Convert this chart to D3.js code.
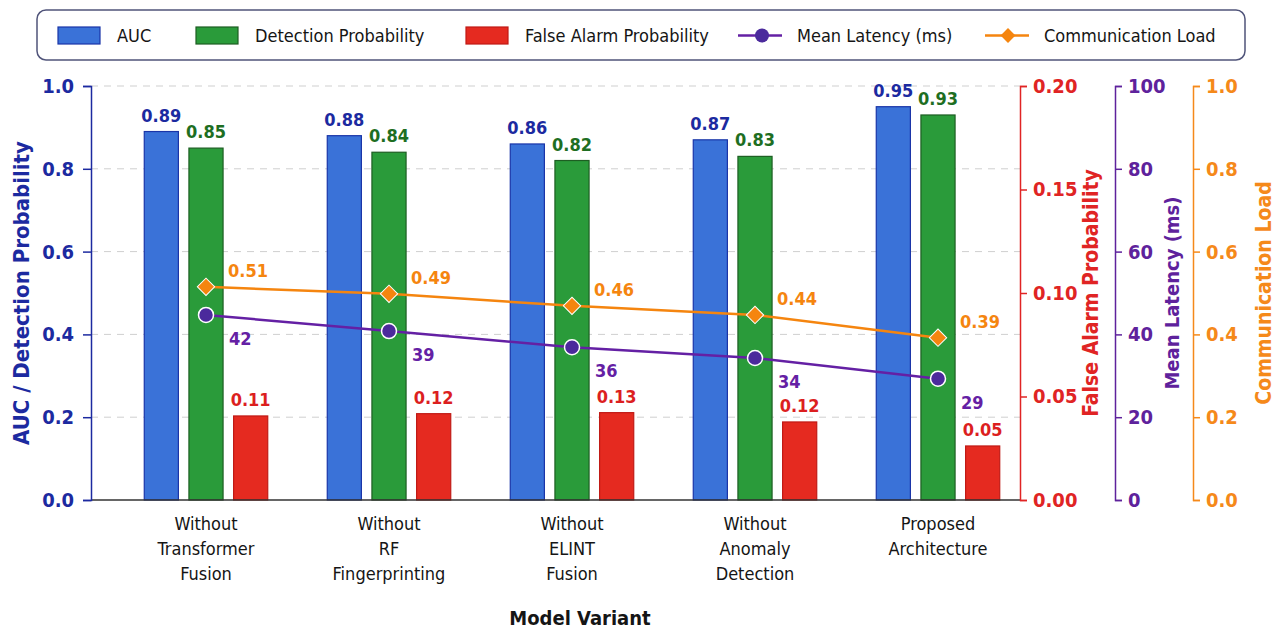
<!DOCTYPE html>
<html>
<head>
<meta charset="utf-8">
<script src="https://cdn.jsdelivr.net/npm/d3@7"></script>
<style>
  body { margin: 0; background: #fff; }
  svg { display: block; font-family: 'DejaVu Sans Condensed', 'Liberation Sans Narrow', sans-serif; }
</style>
</head>
<body>
<svg id="chart" width="1277" height="631"></svg>
<script>
// categories (each label broken into its lines)
const variants = [
  ["Without", "Transformer", "Fusion"],
  ["Without", "RF", "Fingerprinting"],
  ["Without", "ELINT", "Fusion"],
  ["Without", "Anomaly", "Detection"],
  ["Proposed", "Architecture"]
];
const aucValues = [0.89, 0.88, 0.86, 0.87, 0.95];
const detectionValues = [0.85, 0.84, 0.82, 0.83, 0.93];
// false alarm bars: heights as drawn against the red axis, labels as printed
const falseAlarmBars = [0.0406, 0.0417, 0.0422, 0.0377, 0.0261];
const falseAlarmLabels = ["0.11", "0.12", "0.13", "0.12", "0.05"];
// latency / load points: positions as drawn, labels as printed
const latencyValues = [44.7, 40.8, 36.9, 34.3, 29.3];
const latencyLabels = ["42", "39", "36", "34", "29"];
const loadValues = [0.515, 0.498, 0.469, 0.447, 0.392];
const loadLabels = ["0.51", "0.49", "0.46", "0.44", "0.39"];

const leftTicks = [0, 0.2, 0.4, 0.6, 0.8, 1.0];
const faTicks = [0, 0.05, 0.10, 0.15, 0.20];
const latencyTicks = [0, 20, 40, 60, 80, 100];
const loadTicks = [0, 0.2, 0.4, 0.6, 0.8, 1.0];

const C = {
  blue: "#3a72d8", blueEdge: "#1a35a8", blueText: "#1c2aa0",
  green: "#2a9b3a", greenEdge: "#1d5e22", greenText: "#1e6e22",
  red: "#e52a20", redEdge: "#c01a15", redText: "#dc1f1f",
  purple: "#6420a4", purpleDot: "#4b2a9c", orange: "#f5850f"
};

const svg = d3.select("#chart");
const plotTop = 86, plotBottom = 500, plotLeft = 91, plotRight = 1020;

const x = d3.scalePoint().domain(d3.range(variants.length)).range([206, 938]);
const xInner = d3.scaleBand().domain(["auc", "det", "fa"]).range([-67, 67])
  .paddingInner(0.236).paddingOuter(0.118);

const y = d3.scaleLinear().domain([0, 1]).range([plotBottom, plotTop]);
const yFa = d3.scaleLinear().domain([0, 0.2]).range([plotBottom, plotTop]);
const yLat = d3.scaleLinear().domain([0, 100]).range([plotBottom, plotTop]);
const yLoad = d3.scaleLinear().domain([0, 1]).range([plotBottom, plotTop]);

// grid
svg.append("g").selectAll("line").data(leftTicks.slice(1)).join("line")
  .attr("x1", plotLeft).attr("x2", plotRight)
  .attr("y1", d => y(d)).attr("y2", d => y(d))
  .attr("stroke", "#cfcfcf").attr("stroke-width", 1).attr("stroke-dasharray", "7,6");

// bars
const bars = [
  { key: "auc", vals: aucValues, scale: y, fill: C.blue, edge: C.blueEdge },
  { key: "det", vals: detectionValues, scale: y, fill: C.green, edge: C.greenEdge },
  { key: "fa", vals: falseAlarmBars, scale: yFa, fill: C.red, edge: C.redEdge }
];
bars.forEach(b => {
  svg.append("g").selectAll("rect").data(b.vals).join("rect")
    .attr("x", (d, i) => x(i) + xInner(b.key))
    .attr("y", d => b.scale(d))
    .attr("width", xInner.bandwidth())
    .attr("height", d => plotBottom - b.scale(d))
    .attr("fill", b.fill).attr("stroke", b.edge).attr("stroke-width", 1.2);
});

// bar value labels
const valueLabel = (vals, key, scale, texts, color) => {
  svg.append("g").selectAll("text").data(vals).join("text")
    .attr("x", (d, i) => x(i) + xInner(key) + xInner.bandwidth() / 2)
    .attr("y", d => scale(d) - 10)
    .attr("text-anchor", "middle")
    .attr("font-size", 18).attr("font-weight", "bold").attr("fill", color)
    .text((d, i) => texts[i]);
};
valueLabel(aucValues, "auc", y, aucValues.map(d3.format(".2f")), C.blueText);
valueLabel(detectionValues, "det", y, detectionValues.map(d3.format(".2f")), C.greenText);
valueLabel(falseAlarmBars, "fa", yFa, falseAlarmLabels, C.redText);

// lines
const loadLine = d3.line().x((d, i) => x(i)).y(d => yLoad(d));
const latLine = d3.line().x((d, i) => x(i)).y(d => yLat(d));
svg.append("path").datum(loadValues).attr("d", loadLine)
  .attr("fill", "none").attr("stroke", C.orange).attr("stroke-width", 2.5);
svg.append("path").datum(latencyValues).attr("d", latLine)
  .attr("fill", "none").attr("stroke", C.purple).attr("stroke-width", 2.5);

svg.append("g").selectAll("path").data(loadValues).join("path")
  .attr("transform", (d, i) => `translate(${x(i)},${yLoad(d)}) rotate(45)`)
  .attr("d", d3.symbol(d3.symbolSquare, 150))
  .attr("fill", C.orange).attr("stroke", "#fff").attr("stroke-width", 1);
svg.append("g").selectAll("circle").data(latencyValues).join("circle")
  .attr("cx", (d, i) => x(i)).attr("cy", d => yLat(d)).attr("r", 7.5)
  .attr("fill", C.purpleDot).attr("stroke", "#fff").attr("stroke-width", 1.5);

svg.append("g").selectAll("text").data(loadValues).join("text")
  .attr("x", (d, i) => x(i) + 22).attr("y", d => yLoad(d) - 10)
  .attr("font-size", 18).attr("font-weight", "bold").attr("fill", C.orange)
  .text((d, i) => loadLabels[i]);
svg.append("g").selectAll("text").data(latencyValues).join("text")
  .attr("x", (d, i) => x(i) + 23).attr("y", d => yLat(d) + 30)
  .attr("font-size", 18).attr("font-weight", "bold").attr("fill", C.purple)
  .text((d, i) => latencyLabels[i]);

// x axis line
svg.append("line").attr("x1", plotLeft).attr("x2", plotRight).attr("y1", plotBottom).attr("y2", plotBottom)
  .attr("stroke", "#333").attr("stroke-width", 1.5);

// axes
function styleAxis(g, color) {
  g.select(".domain").attr("stroke", color).attr("stroke-width", 1.5);
  g.selectAll(".tick line").attr("stroke", color).attr("stroke-width", 1.5);
  g.selectAll(".tick text").attr("fill", color)
    .attr("font-size", 20).attr("font-weight", "bold");
  g.attr("font-family", null);
}
svg.append("g").attr("transform", `translate(${plotLeft},0)`)
  .call(d3.axisLeft(y).tickValues(leftTicks).tickFormat(d3.format(".1f")).tickSizeOuter(0).tickSize(8).tickPadding(9))
  .call(g => styleAxis(g, C.blueText));
svg.append("g").attr("transform", `translate(${plotRight},0)`)
  .call(d3.axisRight(yFa).tickValues(faTicks).tickFormat(d3.format(".2f")).tickSizeOuter(7).tickSize(7).tickPadding(6))
  .call(g => styleAxis(g, "#e02424"));
svg.append("g").attr("transform", "translate(1115,0)")
  .call(d3.axisRight(yLat).tickValues(latencyTicks).tickFormat(d3.format("d")).tickSizeOuter(7).tickSize(7).tickPadding(6))
  .call(g => styleAxis(g, "#5e229c"));
svg.append("g").attr("transform", "translate(1193,0)")
  .call(d3.axisRight(yLoad).tickValues(loadTicks).tickFormat(d3.format(".1f")).tickSizeOuter(7).tickSize(7).tickPadding(6))
  .call(g => styleAxis(g, "#f5891a"));

// axis titles
const midY = (plotTop + plotBottom) / 2;
const axisTitle = (tx, size, text, color) => svg.append("text")
  .attr("transform", `translate(${tx},${midY}) rotate(-90)`)
  .attr("text-anchor", "middle").attr("dominant-baseline", "central")
  .attr("font-size", size).attr("font-weight", "bold").attr("fill", color).text(text);
axisTitle(21, 22, "AUC / Detection Probability", C.blueText);
axisTitle(1091, 21, "False Alarm Probability", "#e02424");
axisTitle(1172, 20, "Mean Latency (ms)", "#5e229c");
axisTitle(1264, 21, "Communication Load", "#f5891a");

// category labels
svg.append("g").selectAll("text").data(variants).join("text")
  .attr("x", (d, i) => x(i)).attr("y", 530)
  .attr("text-anchor", "middle").attr("font-size", 18).attr("fill", "#151515")
  .each(function (lines) {
    d3.select(this).selectAll("tspan").data(lines).join("tspan")
      .attr("x", d3.select(this).attr("x")).attr("dy", (d, j) => j === 0 ? 0 : 25).text(d => d);
  });

svg.append("text").attr("x", 580).attr("y", 625).attr("text-anchor", "middle")
  .attr("font-size", 20).attr("font-weight", "bold").attr("fill", "#151515").text("Model Variant");

// legend
svg.append("rect").attr("x", 37).attr("y", 10).attr("width", 1208).attr("height", 50)
  .attr("rx", 9).attr("fill", "#fff").attr("stroke", "#50547a").attr("stroke-width", 1.5);
const legendItems = [
  { label: "AUC", type: "bar", fill: C.blue, edge: C.blueEdge, x: 58 },
  { label: "Detection Probability", type: "bar", fill: C.green, edge: C.greenEdge, x: 196 },
  { label: "False Alarm Probability", type: "bar", fill: C.red, edge: C.redEdge, x: 466 },
  { label: "Mean Latency (ms)", type: "dot", fill: C.purpleDot, edge: C.purple, x: 738 },
  { label: "Communication Load", type: "diamond", fill: C.orange, edge: C.orange, x: 985 }
];
const lg = svg.append("g").selectAll("g").data(legendItems).join("g")
  .attr("transform", d => `translate(${d.x},35.5)`);
lg.filter(d => d.type === "bar").append("rect")
  .attr("x", 0).attr("y", -8.5).attr("width", 42).attr("height", 17)
  .attr("fill", d => d.fill).attr("stroke", d => d.edge).attr("stroke-width", 1.2);
lg.filter(d => d.type !== "bar").append("line")
  .attr("x1", 0).attr("x2", 44).attr("stroke", d => d.edge).attr("stroke-width", 2.5);
lg.filter(d => d.type === "dot").append("circle")
  .attr("cx", 24).attr("r", 7).attr("fill", d => d.fill);
lg.filter(d => d.type === "diamond").append("path")
  .attr("transform", "translate(23,0) rotate(45)")
  .attr("d", d3.symbol(d3.symbolSquare, 110)).attr("fill", d => d.fill);
lg.append("text").attr("x", 59).attr("y", 6.5).attr("font-size", 18).attr("fill", "#151515")
  .text(d => d.label);
</script>
</body>
</html>
